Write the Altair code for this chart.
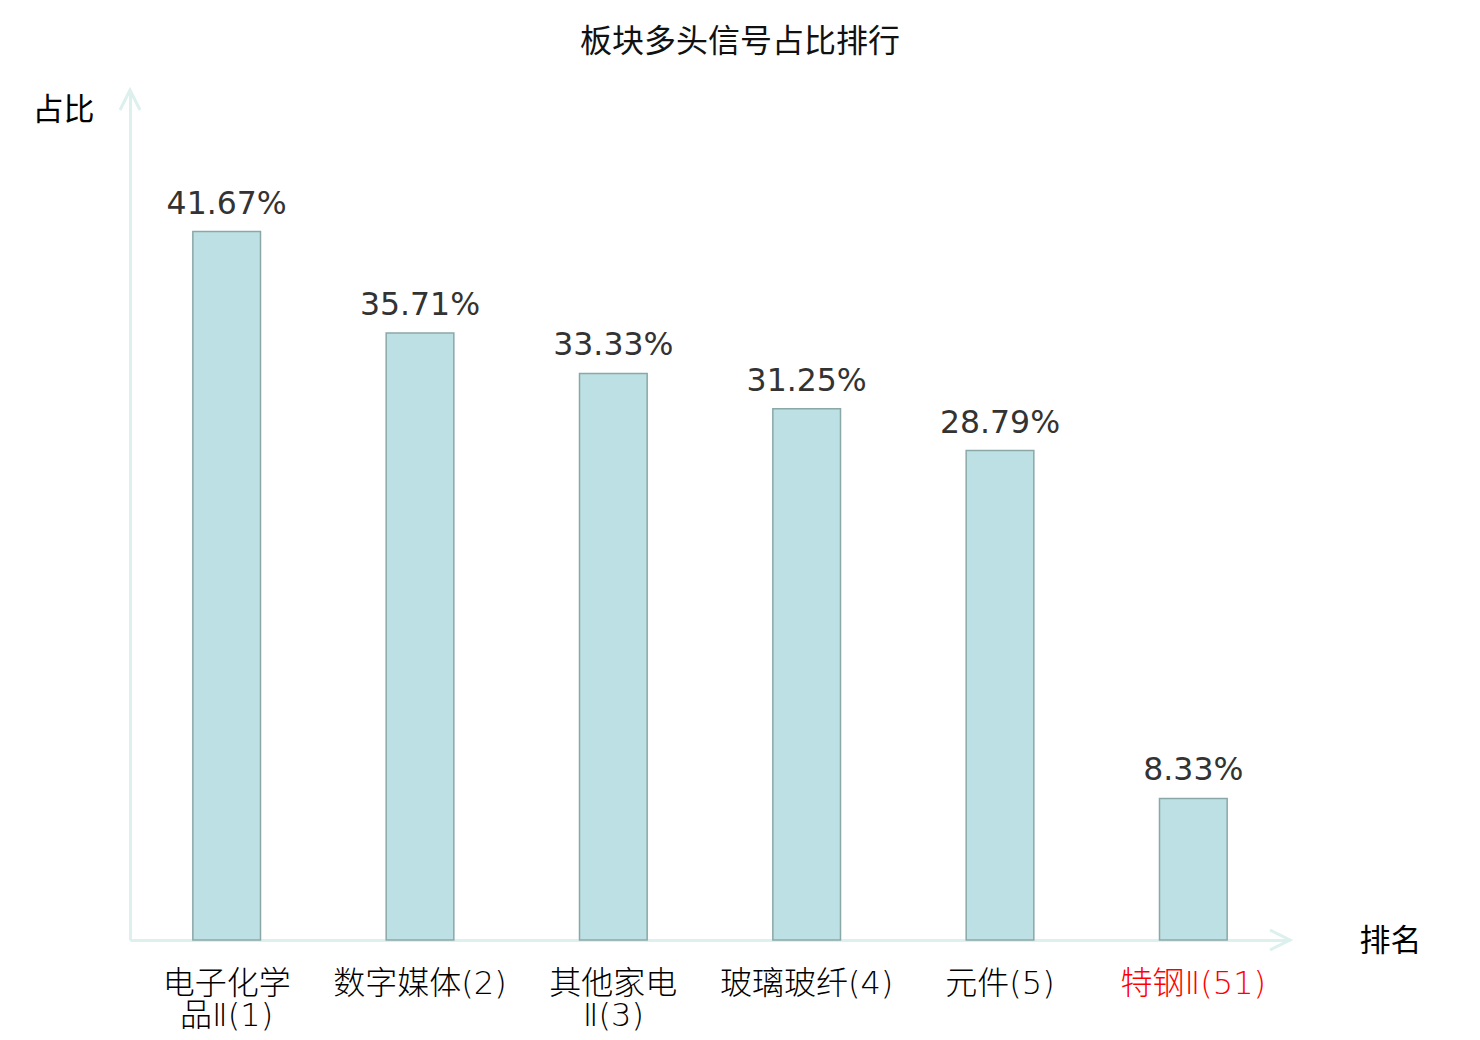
import altair as alt
import pandas as pd

categories = ["电子化学品Ⅱ(1)", "数字媒体(2)", "其他家电Ⅱ(3)", "玻璃玻纤(4)", "元件(5)", "特钢Ⅱ(51)"]
values = [41.67, 35.71, 33.33, 31.25, 28.79, 8.33]
highlight = "特钢Ⅱ(51)"

FONT = "DejaVu Sans, Noto Sans CJK SC"
AXIS_COLOR = "#dcf0ed"
W, H = 1160, 850

df = pd.DataFrame({"category": categories, "value": values})

base = alt.Chart(df).encode(
    x=alt.X(
        "category:N",
        sort=categories,
        scale=alt.Scale(paddingInner=0.65, paddingOuter=0.325),
        axis=alt.Axis(
            title="排名",
            titleAngle=0,
            titleX=W + 100,
            titleY=1,
            titleAlign="center",
            titleBaseline="middle",
            titleFontSize=31,
            titleFontWeight="normal",
            titleColor="#000000",
            titleFont=FONT,
            labelAngle=0,
            labelFont=FONT,
            labelFontSize=32,
            labelFontWeight=200,
            labelLineHeight=32,
            labelPadding=28,
            labelLimit=400,
            labelColor={"condition": {"test": f"datum.value == '{highlight}'", "value": "#ff0000"}, "value": "#000000"},
            labelExpr="length(datum.value) > 7 ? [substring(datum.value, 0, 4), substring(datum.value, 4)] : datum.value",
            ticks=False,
            tickSize=0,
            domainColor=AXIS_COLOR,
            domainWidth=3,
            grid=False,
        ),
    ),
    y=alt.Y(
        "value:Q",
        scale=alt.Scale(domain=[0, 50], nice=False),
        axis=alt.Axis(
            title="占比",
            titleAngle=0,
            titleX=-67,
            titleY=20,
            titleAlign="center",
            titleBaseline="middle",
            titleFontSize=31,
            titleFontWeight="normal",
            titleColor="#000000",
            titleFont=FONT,
            labels=False,
            ticks=False,
            grid=False,
            domainColor=AXIS_COLOR,
            domainWidth=3,
        ),
    ),
)

bars = base.mark_bar(fill="#bce0e3", stroke="#8aa8a8", strokeWidth=1.5)

texts = base.transform_calculate(
    label="format(datum.value, '.2f') + '%'"
).mark_text(
    font=FONT, fontSize=31.5, color="#333333", baseline="alphabetic", dy=-18
).encode(text="label:N")

one = pd.DataFrame({"k": [0]})
up_arrow = alt.Chart(one).mark_point(
    shape="M-1,2L0,0L1,2", filled=False, stroke=AXIS_COLOR, strokeWidth=3, size=400, opacity=1
).encode(x=alt.value(0), y=alt.value(0))
right_arrow = alt.Chart(one).mark_point(
    shape="M-2,-1L0,0L-2,1", filled=False, stroke=AXIS_COLOR, strokeWidth=3, size=400, opacity=1
).encode(x=alt.value(W), y=alt.value(H))

chart = alt.layer(bars, texts, up_arrow, right_arrow).properties(
    width=W,
    height=H,
    title=alt.TitleParams(
        "板块多头信号占比排行", font=FONT, fontSize=32, fontWeight="normal",
        color="#111111", anchor="middle", dx=30, offset=25,
    ),
    autosize=alt.AutoSizeParams(type="none"),
    padding={"left": 122, "top": 82, "right": 170, "bottom": 95},
).configure(background="white").configure_view(stroke=None)

chart.save("out.html", embed_options={"renderer": "svg", "actions": False})
